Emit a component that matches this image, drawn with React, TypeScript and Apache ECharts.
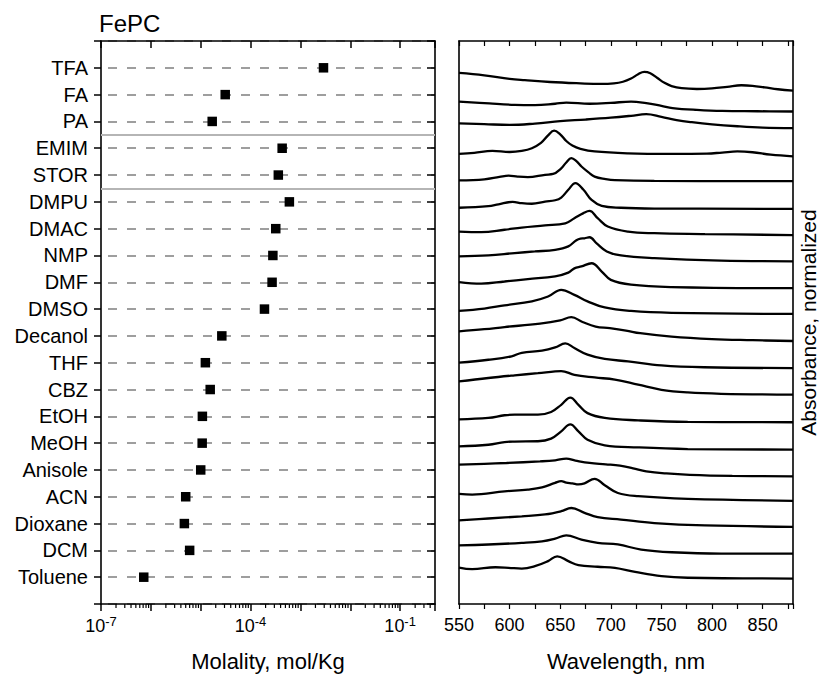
import { useEffect, useRef } from 'react';
import * as echarts from 'echarts';

const FONT = "'Liberation Sans', Arial, Helvetica, sans-serif";

const categories = ['TFA', 'FA', 'PA', 'EMIM', 'STOR', 'DMPU', 'DMAC', 'NMP', 'DMF', 'DMSO', 'Decanol', 'THF', 'CBZ', 'EtOH', 'MeOH', 'Anisole', 'ACN', 'Dioxane', 'DCM', 'Toluene'];
const molality = [2.9e-3, 3.1e-5, 1.7e-5, 4.3e-4, 3.6e-4, 6.0e-4, 3.2e-4, 2.8e-4, 2.7e-4, 1.9e-4, 2.65e-5, 1.24e-5, 1.55e-5, 1.08e-5, 1.07e-5, 1.0e-5, 5.0e-6, 4.7e-6, 6.0e-6, 7.2e-7];
const groupSeparators = [3.5, 5.5];
const labelledExponents = [-7, -4, -1];
const decadeExponents = [-7, -6, -5, -4, -3, -2, -1];
const minorMultipliers = [2, 3, 4, 5, 6, 7, 8, 9];

const specTFA = [[550,0.81],[575,0.72],[600,0.59],[615,0.54],[640,0.47],[670,0.42],[690,0.40],[703,0.42],[712,0.48],[720,0.60],[727,0.76],[733,0.85],[739,0.80],[746,0.62],[753,0.44],[760,0.32],[770,0.24],[785,0.21],[800,0.23],[815,0.29],[829,0.35],[840,0.33],[852,0.27],[865,0.20],[880,0.15]];
const specFA = [[550,0.74],[580,0.67],[605,0.62],[625,0.61],[645,0.66],[656,0.70],[679,0.66],[700,0.69],[720,0.74],[735,0.68],[750,0.58],[761,0.50],[785,0.43],[810,0.39],[845,0.38],[880,0.37]];
const specPA = [[550,0.93],[575,0.90],[600,0.87],[625,0.92],[650,1.01],[675,1.07],[700,1.14],[720,1.21],[735,1.27],[750,1.17],[765,1.05],[780,0.97],[800,0.89],[825,0.82],[850,0.77],[880,0.75]];
const specEMIM = [[550,0.79],[565,0.83],[583,0.90],[600,0.86],[612,0.90],[622,1.00],[631,1.20],[638,1.48],[644,1.66],[650,1.52],[656,1.27],[662,1.10],[670,0.98],[684,0.88],[717,0.81],[760,0.79],[795,0.80],[810,0.84],[825,0.88],[840,0.85],[858,0.76],[880,0.70]];
const specSTOR = [[550,0.80],[575,0.84],[590,0.93],[599,0.98],[608,0.94],[618,0.92],[635,1.01],[643,1.04],[651,1.25],[656,1.47],[661,1.63],[666,1.52],[671,1.32],[678,1.10],[684,0.94],[695,0.85],[704,0.81],[743,0.78],[880,0.77]];
const specDMPU = [[550,0.78],[579,0.84],[589,0.91],[603,1.00],[612,0.95],[622,0.93],[635,1.01],[645,1.06],[651,1.16],[658,1.45],[665,1.70],[673,1.45],[681,1.07],[691,0.85],[710,0.78],[743,0.75],[880,0.74]];
const specDMAC = [[550,0.89],[572,0.87],[595,0.96],[612,1.04],[635,1.12],[655,1.20],[664,1.39],[673,1.58],[679,1.66],[687,1.39],[697,1.08],[717,0.89],[743,0.83],[793,0.80],[880,0.76]];
const specNMP = [[550,0.97],[579,1.00],[605,1.09],[625,1.15],[645,1.21],[658,1.34],[666,1.57],[670,1.63],[674,1.64],[679,1.68],[686,1.45],[696,1.15],[710,1.00],[743,0.90],[809,0.81],[880,0.78]];
const specDMF = [[550,1.01],[572,0.95],[595,1.03],[618,1.12],[645,1.22],[658,1.36],[664,1.52],[671,1.59],[681,1.71],[691,1.40],[700,1.09],[720,0.91],[760,0.82],[880,0.78]];
const specDMSO = [[550,0.93],[575,1.02],[595,1.14],[622,1.29],[638,1.47],[651,1.72],[664,1.53],[677,1.29],[694,1.06],[720,0.93],[760,0.86],[880,0.82]];
const specDecanol = [[550,1.17],[575,1.25],[595,1.33],[630,1.46],[650,1.58],[661,1.70],[672,1.52],[685,1.35],[699,1.29],[715,1.20],[729,1.10],[760,0.97],[800,0.88],[840,0.84],[880,0.81]];
const specTHF = [[550,1.00],[579,1.11],[602,1.24],[612,1.37],[632,1.45],[645,1.57],[655,1.72],[664,1.55],[677,1.30],[694,1.14],[717,1.05],[750,0.90],[792,0.83],[880,0.80]];
const specCBZ = [[550,1.30],[579,1.43],[605,1.53],[628,1.61],[645,1.68],[651,1.69],[664,1.55],[684,1.45],[704,1.37],[727,1.18],[750,0.99],[776,0.89],[809,0.84],[880,0.81]];
const specEtOH = [[550,0.89],[579,0.94],[595,1.04],[605,1.06],[628,1.06],[641,1.16],[651,1.43],[660,1.70],[668,1.43],[677,1.12],[694,0.94],[727,0.85],[776,0.79],[880,0.78]];
const specMeOH = [[550,0.88],[579,0.94],[595,1.04],[605,1.06],[628,1.07],[641,1.17],[651,1.44],[660,1.70],[668,1.44],[677,1.13],[694,0.92],[727,0.84],[776,0.78],[880,0.76]];
const specAnisole = [[550,1.20],[575,1.23],[597,1.26],[630,1.32],[645,1.36],[656,1.42],[665,1.35],[679,1.26],[695,1.21],[709,1.16],[722,1.06],[735,0.95],[755,0.87],[778,0.82],[820,0.78],[880,0.76]];
const specACN = [[550,1.11],[563,1.08],[595,1.20],[618,1.27],[632,1.35],[645,1.52],[651,1.58],[656,1.53],[662,1.50],[668,1.46],[674,1.50],[684,1.67],[694,1.43],[707,1.14],[727,1.02],[776,0.92],[880,0.85]];
const specDioxane = [[550,1.12],[579,1.19],[612,1.27],[635,1.34],[651,1.46],[661,1.58],[674,1.40],[687,1.24],[710,1.15],[743,1.02],[793,0.93],[880,0.88]];
const specDCM = [[550,1.19],[579,1.22],[612,1.28],[632,1.34],[645,1.44],[656,1.56],[671,1.40],[687,1.28],[707,1.22],[730,1.03],[760,0.93],[809,0.88],[880,0.88]];
const specToluene = [[550,1.36],[563,1.30],[586,1.37],[599,1.35],[612,1.32],[625,1.41],[638,1.60],[647,1.78],[658,1.60],[668,1.45],[687,1.39],[704,1.35],[724,1.20],[750,1.04],[776,0.98],[880,0.95]];

const spectra = [specTFA, specFA, specPA, specEMIM, specSTOR, specDMPU, specDMAC, specNMP, specDMF, specDMSO, specDecanol, specTHF, specCBZ, specEtOH, specMeOH, specAnisole, specACN, specDioxane, specDCM, specToluene];

const ROWS_MAX = categories.length + 1;

function buildOption() {
  const black = '#000';
  const axisLine = { show: true, onZero: false, lineStyle: { color: black, width: 1.6 } };
  const minorTickValues = decadeExponents
    .flatMap((e) => minorMultipliers.map((m) => m * Math.pow(10, e)))
    .filter((v) => v < 0.5);

  const logLabel = (v: number) => {
    const e = Math.log10(v);
    const r = Math.round(e);
    if (Math.abs(e - r) > 1e-6) return '';
    if (!labelledExponents.includes(r)) return '';
    return `{b|10}{s|${r}}`;
  };

  return {
    animation: false,
    textStyle: { fontFamily: FONT },
    title: {
      text: 'FePC', left: 99, top: 11, padding: 0,
      textStyle: { fontFamily: FONT, fontSize: 24, fontWeight: 'normal', color: black },
    },
    grid: [
      { left: 101, top: 41, width: 334, height: 563, outerBoundsMode: 'none' },
      { left: 459, top: 41, width: 334, height: 563, outerBoundsMode: 'none' },
    ],
    xAxis: [
      {
        gridIndex: 0, type: 'log', logBase: 10, min: 1e-7, max: 0.5, position: 'bottom',
        name: 'Molality, mol/Kg', nameLocation: 'middle', nameGap: 46,
        nameTextStyle: { fontFamily: FONT, fontSize: 22, color: black },
        axisLine,
        axisTick: { show: true, inside: false, length: 7, lineStyle: { color: black, width: 1.5 } },
        axisLabel: {
          show: true, interval: 0, margin: 11, formatter: logLabel, color: black,
          rich: {
            b: { fontFamily: FONT, fontSize: 18, color: black, lineHeight: 22 },
            s: { fontFamily: FONT, fontSize: 13, color: black, verticalAlign: 'top', lineHeight: 12 },
          },
        },
        splitLine: { show: false },
      },
      {
        gridIndex: 0, type: 'log', logBase: 10, min: 1e-7, max: 0.5, position: 'top',
        axisLine,
        axisTick: { show: true, inside: true, length: 7, lineStyle: { color: black, width: 1.5 } },
        axisLabel: { show: false },
        splitLine: { show: false },
      },
      {
        gridIndex: 1, type: 'value', min: 550, max: 880, interval: 25, position: 'bottom',
        name: 'Wavelength, nm', nameLocation: 'middle', nameGap: 46,
        nameTextStyle: { fontFamily: FONT, fontSize: 22, color: black },
        axisLine,
        axisTick: { show: true, inside: false, length: 5, lineStyle: { color: black, width: 1.2 } },
        axisLabel: {
          show: true, interval: 0, margin: 12, color: black, fontFamily: FONT, fontSize: 18,
          formatter: (v: number) => (v % 50 === 0 && v < 880 ? String(v) : ''),
        },
        splitLine: { show: false },
      },
      {
        gridIndex: 1, type: 'value', min: 550, max: 880, interval: 25, position: 'top',
        axisLine,
        axisTick: { show: true, inside: true, length: 5, lineStyle: { color: black, width: 1.2 } },
        axisLabel: { show: false },
        splitLine: { show: false },
      },
    ],
    yAxis: [
      {
        gridIndex: 0, type: 'value', min: 0, max: ROWS_MAX, interval: 1, inverse: true, position: 'left',
        axisLine,
        axisTick: { show: true, inside: false, length: 7, lineStyle: { color: black, width: 1.5 } },
        axisLabel: {
          show: true, interval: 0, margin: 13, color: black, fontFamily: FONT, fontSize: 20,
          formatter: (v: number) => categories[Math.round(v) - 1] ?? '',
        },
        splitLine: { show: true, lineStyle: { color: '#7f7f7f', width: 1.6, type: [9, 10], dashOffset: 12 } },
      },
      {
        gridIndex: 0, type: 'value', min: 0, max: ROWS_MAX, interval: 1, inverse: true, position: 'right',
        axisLine,
        axisTick: { show: true, inside: true, length: 8, lineStyle: { color: black, width: 1.5 } },
        axisLabel: { show: false },
        splitLine: { show: false },
      },
      {
        gridIndex: 1, type: 'value', min: 0, max: ROWS_MAX, inverse: true, position: 'left',
        axisLine, axisTick: { show: false }, axisLabel: { show: false }, splitLine: { show: false },
      },
      {
        gridIndex: 1, type: 'value', min: 0, max: ROWS_MAX, inverse: true, position: 'right',
        name: 'Absorbance, normalized', nameLocation: 'middle', nameGap: 5, nameRotate: 90,
        nameTextStyle: { fontFamily: FONT, fontSize: 21, color: black },
        axisLine, axisTick: { show: false }, axisLabel: { show: false }, splitLine: { show: false },
      },
    ],
    series: [
      {
        type: 'scatter', xAxisIndex: 0, yAxisIndex: 0, z: 5,
        symbol: 'rect', symbolSize: 9.5,
        itemStyle: { color: black, opacity: 1 },
        data: molality.map((m, i) => [m, i + 1]),
        markLine: {
          silent: true, symbol: 'none', label: { show: false },
          lineStyle: { color: '#b5b5b5', width: 2.2, type: 'solid' },
          data: groupSeparators.map((y) => ({ yAxis: y })),
        },
      },
      {
        type: 'custom', xAxisIndex: 0, yAxisIndex: 0, clip: false, silent: true,
        data: minorTickValues.map((v) => [v, ROWS_MAX]),
        encode: { x: 0, y: 1 },
        renderItem: (params: any, api: any) => {
          const p = api.coord([api.value(0), api.value(1)]);
          return {
            type: 'line',
            shape: { x1: p[0], y1: p[1], x2: p[0], y2: p[1] + 4 },
            style: { stroke: black, lineWidth: 1.2 },
          };
        },
      },
      ...spectra.map((s, i) => ({
        type: 'line', xAxisIndex: 2, yAxisIndex: 2, silent: true,
        name: categories[i],
        data: s.map(([w, a]) => [w, i + 2 - a]),
        smooth: 0.4, showSymbol: false, symbol: 'none',
        lineStyle: { color: black, width: 2.3 },
      })),
    ],
  };
}

export default function App() {
  const ref = useRef<HTMLDivElement>(null);
  useEffect(() => {
    if (!ref.current) return;
    const chart = echarts.init(ref.current, undefined, { renderer: 'svg' });
    chart.setOption(buildOption() as any);
    return () => chart.dispose();
  }, []);
  return (
    <div
      ref={ref}
      style={{ position: 'absolute', left: 0, top: 0, width: 821, height: 674, background: '#fff' }}
    />
  );
}
